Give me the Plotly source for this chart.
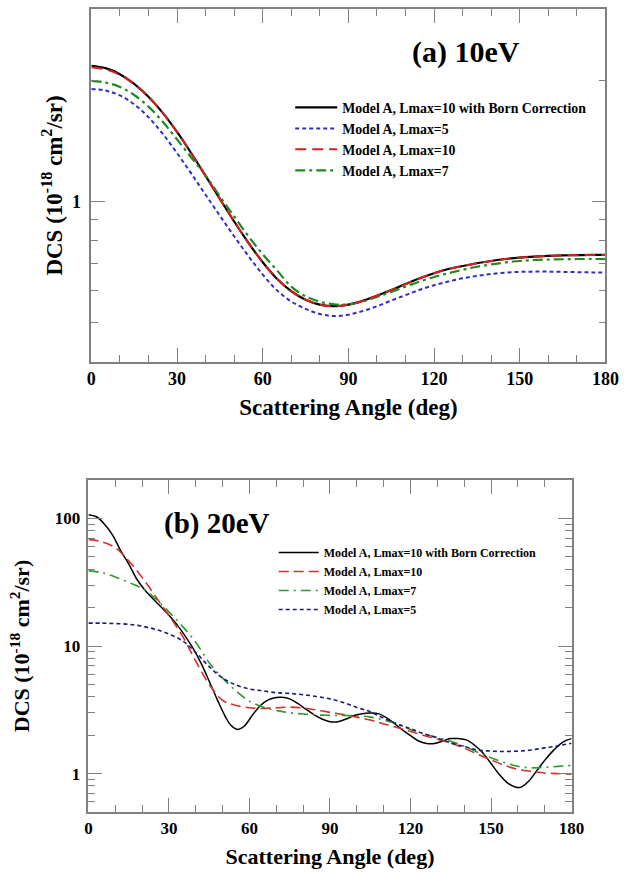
import plotly.graph_objects as go
import numpy as np

# ---------------- data: (a) 10 eV ----------------
ang_a = [0, 5, 10, 15, 20, 25, 30, 35, 40, 45, 50, 55, 60, 65, 70, 75, 80, 85, 90,
         95, 100, 105, 110, 115, 120, 125, 130, 135, 140, 145, 150, 155, 160, 165,
         170, 175, 180]
a_born = [2.17, 2.14, 2.068, 1.957, 1.818, 1.658, 1.487, 1.317, 1.157, 1.015, 0.892,
          0.79, 0.707, 0.643, 0.599, 0.571, 0.555, 0.55, 0.555, 0.567, 0.584, 0.603,
          0.624, 0.645, 0.664, 0.68, 0.692, 0.703, 0.712, 0.72, 0.726, 0.73, 0.733,
          0.735, 0.736, 0.737, 0.737]
a_l5 = [1.90, 1.883, 1.832, 1.741, 1.618, 1.472, 1.318, 1.172, 1.039, 0.922, 0.82,
        0.732, 0.659, 0.602, 0.565, 0.542, 0.526, 0.52, 0.524, 0.535, 0.55, 0.568,
        0.586, 0.604, 0.62, 0.633, 0.645, 0.654, 0.661, 0.666, 0.669, 0.67, 0.67,
        0.669, 0.668, 0.667, 0.666]
a_l10 = [2.15, 2.125, 2.06, 1.953, 1.818, 1.658, 1.487, 1.317, 1.157, 1.015, 0.892,
         0.79, 0.707, 0.643, 0.599, 0.571, 0.555, 0.55, 0.555, 0.567, 0.584, 0.603,
         0.624, 0.645, 0.664, 0.68, 0.692, 0.703, 0.712, 0.72, 0.726, 0.73, 0.733,
         0.735, 0.736, 0.737, 0.737]
a_l7 = [1.99, 1.972, 1.923, 1.836, 1.718, 1.577, 1.425, 1.285, 1.16, 1.03, 0.918,
        0.82, 0.74, 0.675, 0.615, 0.582, 0.564, 0.556, 0.556, 0.565, 0.58, 0.597,
        0.615, 0.633, 0.65, 0.664, 0.677, 0.689, 0.698, 0.706, 0.712, 0.716, 0.718,
        0.719, 0.72, 0.72, 0.72]

# ---------------- data: (b) 20 eV ----------------
ang_b_born = [0, 3, 6, 9, 12, 15, 18, 21, 24, 27, 30, 33, 36, 39, 42, 45, 48, 51, 53,
              55.5, 58, 61, 64, 67, 70, 72, 75, 78, 81, 84, 87, 90, 93, 96, 99, 102,
              105, 108, 111, 114, 117, 120, 123, 126, 129, 132, 135, 138, 141, 144,
              147, 150, 153, 156, 159, 161, 164, 167, 170, 173, 176, 178, 180]
b_born = [107, 103, 90, 74, 56, 44, 33.5, 27.5, 23.5, 20.3, 17.4, 14.7, 12.0, 9.6, 7.3,
          5.3, 3.8, 2.8, 2.4, 2.22, 2.35, 2.85, 3.4, 3.78, 3.95, 3.97, 3.85, 3.55, 3.2,
          2.9, 2.68, 2.55, 2.55, 2.68, 2.85, 2.95, 2.98, 2.95, 2.75, 2.47, 2.2, 1.98,
          1.8, 1.72, 1.72, 1.8, 1.88, 1.88, 1.83, 1.66, 1.45, 1.2, 0.99, 0.85, 0.785,
          0.78, 0.87, 1.05, 1.27, 1.5, 1.72, 1.82, 1.88]
ang_b = [0, 5, 10, 15, 20, 25, 30, 35, 40, 45, 50, 55, 60, 65, 70, 75, 80, 85, 90,
         95, 100, 105, 110, 115, 120, 125, 130, 135, 140, 145, 150, 155, 160, 165,
         170, 175, 180]
b_l10 = [68.5, 65.5, 59, 46.5, 34.5, 24.5, 17.3, 12.0, 7.6, 5.0, 3.75, 3.42, 3.28, 3.24,
         3.28, 3.32, 3.27, 3.15, 3.02, 2.9, 2.77, 2.63, 2.45, 2.3, 2.14, 1.99, 1.86,
         1.73, 1.58, 1.42, 1.28, 1.16, 1.08, 1.04, 1.01, 1.0, 0.99]
b_l7 = [39, 37.5, 34.8, 31.5, 28.3, 23.5, 18.5, 14.3, 10.7, 7.4, 5.6, 4.45, 3.7, 3.32,
        3.12, 3.0, 2.93, 2.88, 2.86, 2.85, 2.84, 2.77, 2.63, 2.45, 2.22, 2.05, 1.92,
        1.79, 1.64, 1.47, 1.33, 1.22, 1.14, 1.11, 1.12, 1.14, 1.16]
b_l5 = [15.1, 15.1, 15.0, 14.8, 14.3, 13.5, 12.4, 11.0, 8.9, 6.9, 5.6, 4.95, 4.6,
        4.45, 4.3, 4.25, 4.15, 4.02, 3.85, 3.6, 3.3, 3.05, 2.72, 2.45, 2.25, 2.05,
        1.9, 1.74, 1.63, 1.53, 1.5, 1.49, 1.5, 1.53, 1.59, 1.65, 1.73]

lab_born = "Model A, Lmax=10 with Born Correction"
lab_l5 = "Model A, Lmax=5"
lab_l10 = "Model A, Lmax=10"
lab_l7 = "Model A, Lmax=7"

SERIF = "Liberation Serif"
W, H = 635, 872

fig = go.Figure()

# top panel traces
fig.add_trace(go.Scatter(x=ang_a, y=a_born, name=lab_born, mode="lines", line_shape="spline",
                         line=dict(color="black", width=2.2), xaxis="x", yaxis="y",
                         legend="legend", legendrank=1))
fig.add_trace(go.Scatter(x=ang_a, y=a_l5, name=lab_l5, mode="lines", line_shape="spline",
                         line=dict(color="#2f2fc8", width=2, dash="4px,3px"), xaxis="x", yaxis="y",
                         legend="legend", legendrank=2))
fig.add_trace(go.Scatter(x=ang_a, y=a_l7, name=lab_l7, mode="lines", line_shape="spline",
                         line=dict(color="#1f8a1f", width=2.2, dash="10px,4px,3px,4px"), xaxis="x", yaxis="y",
                         legend="legend", legendrank=4))
fig.add_trace(go.Scatter(x=ang_a, y=a_l10, name=lab_l10, mode="lines", line_shape="spline",
                         line=dict(color="#d42020", width=2, dash="11px,6px"), xaxis="x", yaxis="y",
                         legend="legend", legendrank=3))

# bottom panel traces
fig.add_trace(go.Scatter(x=ang_b_born, y=b_born, name=lab_born, mode="lines", line_shape="spline",
                         line=dict(color="black", width=1.5), xaxis="x2", yaxis="y2",
                         legend="legend2", legendrank=1))
fig.add_trace(go.Scatter(x=ang_b, y=b_l10, name=lab_l10, mode="lines", line_shape="spline",
                         line=dict(color="#d43030", width=1.6, dash="10px,5px"), xaxis="x2", yaxis="y2",
                         legend="legend2", legendrank=2))
fig.add_trace(go.Scatter(x=ang_b, y=b_l7, name=lab_l7, mode="lines", line_shape="spline",
                         line=dict(color="#2a9a2a", width=1.6, dash="10px,5px,2px,5px"), xaxis="x2", yaxis="y2",
                         legend="legend2", legendrank=3))
fig.add_trace(go.Scatter(x=ang_b, y=b_l5, name=lab_l5, mode="lines", line_shape="spline",
                         line=dict(color="#1a1a7a", width=1.6, dash="4px,3px"), xaxis="x2", yaxis="y2",
                         legend="legend2", legendrank=4))

def px_x(p):
    return p / W

def px_y(p):
    return 1 - p / H

axis_common = dict(showline=True, linecolor="#808080", linewidth=1.5, mirror="allticks",
                   ticks="inside", tickcolor="#808080", tickwidth=1.3, ticklen=14,
                   showgrid=False, zeroline=False)

fig.update_layout(
    xaxis=dict(domain=[px_x(89), px_x(619)], anchor="y", range=[0, 180], tick0=0, dtick=30,
               minor=dict(dtick=10, ticklen=7, tickcolor="#808080", tickwidth=1.3, ticks="inside"),
               tickfont=dict(family=SERIF, size=18, color="black", weight="bold"),
               title=dict(text="Scattering Angle (deg)", standoff=11,
                          font=dict(family=SERIF, size=23, color="black", weight="bold")),
               **axis_common),
    yaxis=dict(domain=[px_y(362), px_y(9)], anchor="x", type="log",
               range=[np.log10(0.4), np.log10(3.0)],
               tickmode="array", tickvals=[1], ticktext=["1"], ticklabelstandoff=5,
               minor=dict(tickmode="array", tickvals=[0.5, 0.6, 0.7, 0.8, 0.9, 2, 3],
                          ticklen=7, tickcolor="#808080", tickwidth=1.3, ticks="inside"),
               tickfont=dict(family=SERIF, size=18, color="black", weight="bold"),
               title=dict(text="DCS (10<sup>-18</sup> cm<sup>2</sup>/sr)", standoff=3,
                          font=dict(family=SERIF, size=23, color="black", weight="bold")),
               **axis_common),
    xaxis2=dict(domain=[px_x(86), px_x(584)], anchor="y2", range=[0, 180], tick0=0, dtick=30,
                minor=dict(dtick=10, ticklen=7, tickcolor="#808080", tickwidth=1.3, ticks="inside"),
                tickfont=dict(family=SERIF, size=17, color="black", weight="bold"),
                title=dict(text="Scattering Angle (deg)", standoff=11,
                           font=dict(family=SERIF, size=22, color="black", weight="bold")),
                **axis_common),
    yaxis2=dict(domain=[px_y(812), px_y(480)], anchor="x2", type="log",
                range=[np.log10(0.5), np.log10(200)],
                tickmode="array", tickvals=[1, 10, 100], ticktext=["1", "10", "100"],
                ticklabelstandoff=3,
                minor=dict(tickmode="array",
                           tickvals=[0.5, 0.6, 0.7, 0.8, 0.9, 2, 3, 4, 5, 6, 7, 8, 9,
                                     20, 30, 40, 50, 60, 70, 80, 90, 200],
                           ticklen=7, tickcolor="#808080", tickwidth=1.3, ticks="inside"),
                tickfont=dict(family=SERIF, size=17, color="black", weight="bold"),
                title=dict(text="DCS (10<sup>-18</sup> cm<sup>2</sup>/sr)", standoff=19,
                           font=dict(family=SERIF, size=22, color="black", weight="bold")),
                **axis_common),
)

fig.update_layout(
    width=W, height=H, margin=dict(l=0, r=0, t=0, b=0),
    paper_bgcolor="white", plot_bgcolor="white", showlegend=True,
    legend=dict(x=px_x(294), y=px_y(92), xanchor="left", yanchor="top",
                bgcolor="rgba(0,0,0,0)", borderwidth=0, itemwidth=42, tracegroupgap=0,
                font=dict(family=SERIF, size=13.8, color="black", weight="bold")),
    legend2=dict(x=px_x(277), y=px_y(538), xanchor="left", yanchor="top",
                 bgcolor="rgba(0,0,0,0)", borderwidth=0, itemwidth=40, tracegroupgap=0,
                 font=dict(family=SERIF, size=12, color="black", weight="bold")),
    annotations=[
        dict(text="(a) 10eV", x=475 / W, y=px_y(52), xref="paper", yref="paper",
             showarrow=False, xanchor="center", yanchor="middle",
             font=dict(family=SERIF, size=30, color="black", weight="bold")),
        dict(text="(b) 20eV", x=219 / W, y=px_y(523), xref="paper", yref="paper",
             showarrow=False, xanchor="center", yanchor="middle",
             font=dict(family=SERIF, size=29, color="black", weight="bold")),
    ],
)

fig.write_html("out.html")
